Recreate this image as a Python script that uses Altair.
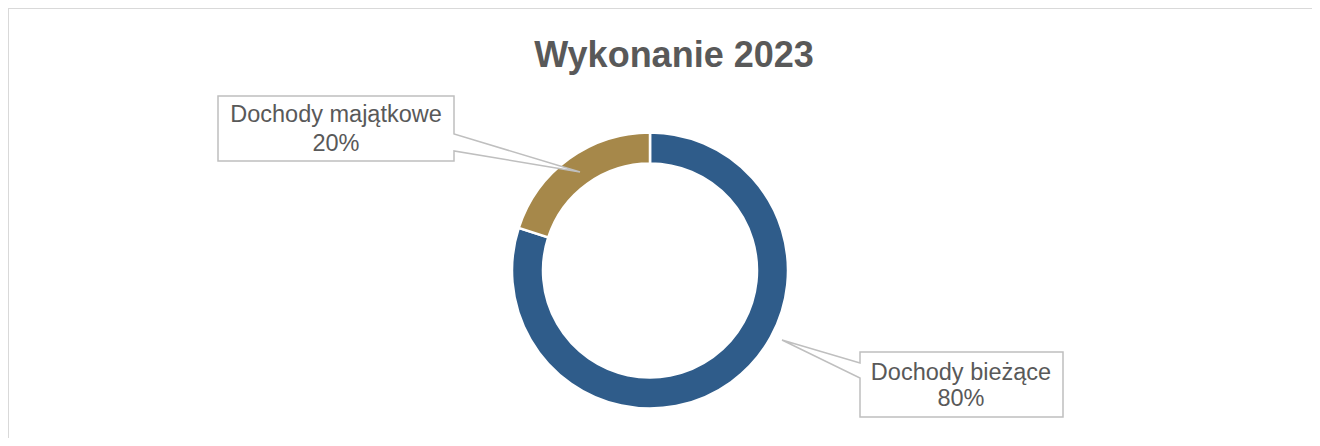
import altair as alt
import pandas as pd

# ---- data ----
categories = ["Dochody bieżące", "Dochody majątkowe"]
values = [80, 20]
colors = ["#2F5C8A", "#A6884A"]
title_text = "Wykonanie 2023"

df = pd.DataFrame({
    "category": categories,
    "value": values,
    "order": list(range(len(categories))),
})
df["pct"] = df["value"].astype(str) + "%"

W, H = 1304, 430
GREY_TXT = "#595959"
GREY_LINE = "#BFBFBF"
FONT = "Liberation Sans"

base = alt.Chart(df)

# donut
donut = base.mark_arc(radius=138, radius2=107, stroke="white", strokeWidth=2.5).encode(
    theta=alt.Theta("value:Q", stack=True),
    color=alt.Color("category:N", scale=alt.Scale(domain=categories, range=colors), legend=None),
    order=alt.Order("order:Q"),
    x=alt.value(642),
    y=alt.value(262.5),
)

# callout shapes (box + wedge), path coordinates in pixels (size=4 -> scale 1)
call_maj = "M210,88L446,88L446,126L572,164L446,143L446,153L210,153Z"
call_biez = "M852,344L1055,344L1055,409L852,409L852,370L774,332L852,355Z"

def callout(path, cat):
    return base.transform_filter(alt.datum.category == cat).mark_point(
        shape=path, size=4, filled=True, fill="white", stroke=GREY_LINE,
        strokeWidth=1.5, opacity=1, fillOpacity=1, strokeOpacity=1
    ).encode(x=alt.value(0), y=alt.value(0))

def label(cat, cx, y1, y2):
    t1 = base.transform_filter(alt.datum.category == cat).mark_text(
        font=FONT, fontSize=23.5, color=GREY_TXT, align="center", baseline="alphabetic"
    ).encode(text="category:N", x=alt.value(cx), y=alt.value(y1))
    t2 = base.transform_filter(alt.datum.category == cat).mark_text(
        font=FONT, fontSize=23.5, color=GREY_TXT, align="center", baseline="alphabetic"
    ).encode(text="pct:N", x=alt.value(cx), y=alt.value(y2))
    return t1 + t2

title = alt.Chart(pd.DataFrame({"t": [title_text]})).mark_text(
    font=FONT, fontSize=36, fontWeight="bold", color=GREY_TXT, align="center", baseline="alphabetic"
).encode(text="t:N", x=alt.value(666), y=alt.value(59))

border = alt.Chart(pd.DataFrame({"a": [0]})).mark_rule(color="#D9D9D9", strokeWidth=2)
top_border = border.encode(x=alt.value(0), x2=alt.value(W), y=alt.value(0))
left_border = border.encode(x=alt.value(0), y=alt.value(0), y2=alt.value(H))

chart = alt.layer(
    top_border, left_border,
    donut,
    callout(call_maj, categories[1]),
    callout(call_biez, categories[0]),
    label(categories[1], 328, 114, 143),
    label(categories[0], 953, 372, 398),
    title,
).properties(
    width=W, height=H, padding=0,
    autosize=alt.AutoSizeParams(type="none"),
    background="white",
).configure_view(stroke="transparent", strokeWidth=0)

chart.save("out.html", embed_options={"renderer": "svg", "actions": False})
